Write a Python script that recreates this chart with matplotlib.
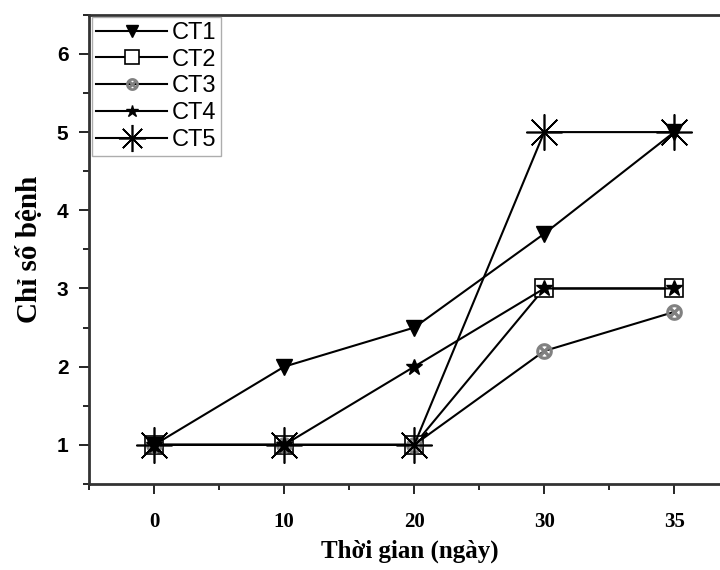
import matplotlib.pyplot as plt
from matplotlib.ticker import MultipleLocator

days = ['0', '10', '20', '30', '35']
ct1 = [1, 2, 2.5, 3.7, 5]
ct2 = [1, 1, 1, 3, 3]
ct3 = [1, 1, 1, 2.2, 2.7]
ct4 = [1, 1, 2, 3, 3]
ct5 = [1, 1, 1, 5, 5]

fig = plt.figure(figsize=(7.2, 5.7), dpi=100)
ax = fig.add_axes([0.124, 0.151, 0.89, 0.823])
x = range(len(days))

ax.plot(x, ct2, color='black', lw=1.5, marker='s', ms=13, mfc='white', mec='black', mew=1.2, label='CT2')
ax.plot(x, ct3, color='black', lw=1.5, marker=r'$\otimes$', ms=11, mfc='gray', mec='gray', label='CT3')
ax.plot(x, ct1, color='black', lw=1.5, marker='v', ms=11, label='CT1')
ax.plot(x, ct4, color='black', lw=1.5, marker='*', ms=12, label='CT4')
ax.plot(x, ct5, color='black', lw=1.5, marker=(8, 2, 0), ms=26, mew=1.2, label='CT5')

ax.set_xlim(-0.5, 4.43)
ax.set_ylim(0.5, 6.5)
ax.set_xticks(list(x))
ax.set_xticklabels(days, fontfamily='Liberation Serif', fontweight='bold', fontsize=15)
ax.xaxis.set_minor_locator(MultipleLocator(0.5))
ax.yaxis.set_major_locator(MultipleLocator(1))
ax.yaxis.set_minor_locator(MultipleLocator(0.5))
for lab in ax.get_yticklabels():
    lab.set_fontfamily('Liberation Sans')
    lab.set_fontweight('bold')
    lab.set_fontsize(15)
ax.tick_params(which='major', length=7, width=1.2, pad=13)
ax.tick_params(which='minor', length=4, width=1.2)
ax.tick_params(axis='y', pad=8)
for s in ax.spines.values():
    s.set_linewidth(2)
    s.set_color('#333333')
ax.spines['right'].set_visible(False)

ax.set_xlabel('Thời gian (ngày)', fontfamily='Liberation Serif', fontweight='bold', fontsize=18, labelpad=6)
ax.set_ylabel('Chỉ số bệnh', fontfamily='Liberation Serif', fontweight='bold', fontsize=21, labelpad=10)

handles, labels = ax.get_legend_handles_labels()
order = [labels.index(n) for n in ['CT1', 'CT2', 'CT3', 'CT4', 'CT5']]
leg = ax.legend([handles[i] for i in order], [labels[i] for i in order], loc='upper left',
                prop={'family': 'Liberation Sans', 'size': 17}, frameon=True, fancybox=False,
                edgecolor='#999999', borderaxespad=0.1, handlelength=3.0, markerscale=0.75,
                labelspacing=0.2, handletextpad=0.2, borderpad=0.2)

fig.savefig('out.png', dpi=100)
